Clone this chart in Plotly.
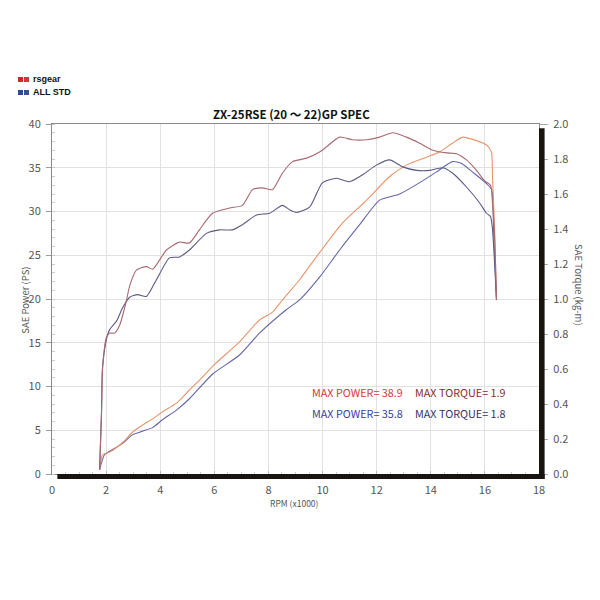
import plotly.graph_objects as go

# ---------------- data ----------------
rsgear_power_rpm = [1.76, 1.87, 2.13, 2.61, 2.98, 3.35, 3.72, 4.08, 4.60, 5.08, 5.45, 6.00, 6.93, 7.67,
                    8.15, 8.52, 9.15, 9.89, 10.74, 11.63, 12.48, 13.10, 13.84, 14.32, 14.80, 15.18,
                    15.69, 16.06, 16.17, 16.25, 16.28, 16.36, 16.43]
rsgear_power_ps = [0.5, 2.2, 2.5, 3.6, 4.8, 5.6, 6.3, 7.1, 8.1, 9.6, 10.7, 12.5, 15.1, 17.6,
                   18.5, 19.9, 22.2, 25.3, 28.7, 31.3, 34.0, 35.3, 36.2, 36.8, 37.8, 38.5,
                   38.1, 37.6, 37.2, 36.7, 34.0, 28.0, 19.9]

std_power_rpm = [1.76, 1.94, 2.13, 2.61, 2.98, 3.35, 3.72, 4.08, 4.60, 5.08, 5.93, 6.93, 7.67, 8.67,
                 9.15, 9.89, 10.63, 11.37, 12.11, 12.85, 13.59, 14.20, 14.80, 15.14, 15.55, 16.06,
                 16.25, 16.32, 16.43]
std_power_ps = [0.5, 2.2, 2.6, 3.5, 4.5, 4.9, 5.3, 6.2, 7.3, 8.6, 11.4, 13.6, 16.1, 18.8,
                19.9, 22.5, 25.6, 28.5, 31.3, 32.0, 33.3, 34.5, 35.7, 35.5, 34.5, 33.2,
                32.5, 28.0, 19.9]

rsgear_torque_rpm = [1.76, 1.83, 1.87, 2.02, 2.13, 2.31, 2.50, 2.75, 2.87, 3.12, 3.49, 3.72, 4.23,
                     4.71, 5.08, 5.45, 5.93, 6.56, 7.04, 7.41, 7.78, 8.15, 8.52, 8.89, 9.41, 9.89,
                     10.15, 10.63, 11.11, 11.63, 12.11, 12.59, 13.10, 13.59, 14.07, 14.58, 14.95,
                     15.32, 15.69, 15.99, 16.21, 16.28, 16.36, 16.43]
rsgear_torque_kgm = [0.025, 0.35, 0.61, 0.785, 0.805, 0.805, 0.85, 0.99, 1.075, 1.165, 1.185, 1.17,
                     1.28, 1.325, 1.32, 1.395, 1.49, 1.52, 1.535, 1.625, 1.635, 1.625, 1.72, 1.785,
                     1.805, 1.84, 1.87, 1.925, 1.91, 1.91, 1.925, 1.95, 1.925, 1.89, 1.85, 1.835,
                     1.83, 1.795, 1.735, 1.675, 1.65, 1.55, 1.35, 0.995]

std_torque_rpm = [1.76, 1.83, 1.87, 2.02, 2.13, 2.39, 2.61, 2.87, 3.16, 3.49, 3.86, 4.34, 4.71,
                  5.08, 5.71, 6.19, 6.67, 7.04, 7.56, 8.04, 8.52, 8.78, 9.04, 9.52, 10.00, 10.52,
                  10.99, 11.48, 11.99, 12.48, 12.96, 13.48, 13.96, 14.44, 14.80, 15.32, 15.80,
                  16.06, 16.21, 16.28, 16.36, 16.43]
std_torque_kgm = [0.025, 0.35, 0.61, 0.775, 0.825, 0.875, 0.95, 1.01, 1.025, 1.015, 1.11, 1.235,
                  1.24, 1.28, 1.375, 1.395, 1.395, 1.425, 1.48, 1.49, 1.535, 1.51, 1.495, 1.525,
                  1.665, 1.69, 1.67, 1.71, 1.765, 1.795, 1.755, 1.735, 1.735, 1.75, 1.72, 1.64,
                  1.55, 1.49, 1.47, 1.40, 1.20, 0.995]

max_labels = ["MAX POWER= 38.9", "MAX TORQUE= 1.9", "MAX POWER= 35.8", "MAX TORQUE= 1.8"]
legend_names = ["rsgear", "ALL STD"]
x_ticks = [0, 2, 4, 6, 8, 10, 12, 14, 16, 18]
y_ticks = [0, 5, 10, 15, 20, 25, 30, 35, 40]
y2_ticks = [0.0, 0.2, 0.4, 0.6, 0.8, 1.0, 1.2, 1.4, 1.6, 1.8, 2.0]

# ---------------- styles ----------------
NARROW = "Noto Sans CJK JP, Noto Sans, sans-serif"
C_RS_POW = "#e8946a"
C_RS_TQ = "#a86a6e"
C_STD_POW = "#6466a8"
C_STD_TQ = "#5a5a86"

fig = go.Figure()
line_kw = dict(shape="spline", smoothing=0.6)
fig.add_trace(go.Scatter(x=std_torque_rpm, y=std_torque_kgm, yaxis="y2", mode="lines",
                         line=dict(color=C_STD_TQ, width=1.1, **line_kw), showlegend=False))
fig.add_trace(go.Scatter(x=rsgear_torque_rpm, y=rsgear_torque_kgm, yaxis="y2", mode="lines",
                         line=dict(color=C_RS_TQ, width=1.1, **line_kw), showlegend=False))
fig.add_trace(go.Scatter(x=std_power_rpm, y=std_power_ps, mode="lines",
                         line=dict(color=C_STD_POW, width=1.1, **line_kw), showlegend=False))
fig.add_trace(go.Scatter(x=rsgear_power_rpm, y=rsgear_power_ps, mode="lines",
                         line=dict(color=C_RS_POW, width=1.1, **line_kw), showlegend=False))

fig.update_layout(
    width=600, height=600,
    margin=dict(l=52, r=61, t=124, b=126),
    paper_bgcolor="white", plot_bgcolor="white",
    xaxis=dict(range=[0, 18], tickvals=x_ticks, showgrid=True, gridcolor="#e2e2e2", gridwidth=1,
               zeroline=False, showline=True, linecolor="#8a8a8a", linewidth=1, mirror=True,
               ticks="inside", ticklen=3, tickcolor="#bbbbbb", ticklabelstandoff=6,
               minor=dict(dtick=0.5, ticks="inside", ticklen=2, tickcolor="#cccccc"),
               tickfont=dict(family=NARROW, size=11, color="#555555")),
    yaxis=dict(range=[0, 40], tickvals=y_ticks, showgrid=True, gridcolor="#e2e2e2", gridwidth=1,
               zeroline=False, showline=True, linecolor="#8a8a8a", linewidth=1, mirror=True,
               ticks="outside", ticklen=5, tickcolor="#999999", ticklabelstandoff=3,
               minor=dict(dtick=1, ticks="inside", ticklen=3, tickcolor="#cccccc"),
               tickfont=dict(family=NARROW, size=11, color="#555555")),
    yaxis2=dict(range=[0, 2], tickvals=y2_ticks, tickformat=".1f", overlaying="y", side="right",
                showgrid=False, zeroline=False, showline=False,
                ticks="outside", ticklen=8, tickcolor="#aaaaaa", ticklabelstandoff=3,
                tickfont=dict(family=NARROW, size=11, color="#555555")),
)

# drop shadow (thick black right/bottom border)
fig.add_shape(type="rect", xref="paper", yref="paper", x0=0.011, x1=1.0115, y0=-0.0143, y1=0.0,
              fillcolor="#1a1411", line=dict(width=0), layer="above")
fig.add_shape(type="rect", xref="paper", yref="paper", x0=1.0, x1=1.0115, y0=-0.0143, y1=0.988,
              fillcolor="#1a1411", line=dict(width=0), layer="above")

# title
fig.add_annotation(text="ZX-25RSE (20 ～ 22)GP SPEC", xref="paper", yref="paper", x=0.491, y=1.029,
                   xanchor="center", yanchor="middle", showarrow=False,
                   font=dict(family=NARROW, size=11.5, color="#111111", weight="bold"))
# axis titles
fig.add_annotation(text="RPM (x1000)", xref="paper", yref="paper", x=0.497, y=-0.082,
                   xanchor="center", yanchor="middle", showarrow=False,
                   font=dict(family=NARROW, size=8.5, color="#555555"))
fig.add_annotation(text="SAE Power (PS)", xref="paper", yref="paper", x=-0.056, y=0.497,
                   xanchor="center", yanchor="middle", showarrow=False, textangle=-90,
                   font=dict(family=NARROW, size=9.5, color="#555555"))
fig.add_annotation(text="SAE Torque (kg-m)", xref="paper", yref="paper", x=1.082, y=0.54,
                   xanchor="center", yanchor="middle", showarrow=False, textangle=90,
                   font=dict(family=NARROW, size=9.5, color="#555555"))

# max value texts
max_colors = ["#d63a36", "#8a2c2c", "#3a3e9e", "#34346a"]
max_pos = [(0.530, 0.234), (0.741, 0.234), (0.530, 0.174), (0.741, 0.174)]
for txt, col, (px, py) in zip(max_labels, max_colors, max_pos):
    fig.add_annotation(text=txt, xref="paper", yref="paper", x=px, y=py, xanchor="left",
                       yanchor="middle", showarrow=False,
                       font=dict(family=NARROW, size=10.8, color=col))

# custom legend (top-left)
sq = [("#d42424", "#c83a3a", 0.0), ("#2a4a9c", "#3a4e92", 13.0)]
for (c1, c2, dy), name in zip(sq, legend_names):
    y_top = 77 + dy
    for i, c in enumerate((c1, c2)):
        x0 = 18 + i * 6
        fig.add_shape(type="rect", xref="paper", yref="paper",
                      x0=(x0 - 52) / 487, x1=(x0 + 5 - 52) / 487,
                      y0=(474 - y_top - 5) / 350, y1=(474 - y_top) / 350,
                      fillcolor=c, line=dict(width=0))
    fig.add_annotation(text="<b>" + name + "</b>", xref="paper", yref="paper",
                       x=(31 - 52) / 487, y=(474 - y_top - 2.5) / 350, xanchor="left",
                       yanchor="middle", showarrow=False,
                       font=dict(family="Liberation Sans, Arial, sans-serif", size=9, color="#111111"))

fig.write_html("out.html")
